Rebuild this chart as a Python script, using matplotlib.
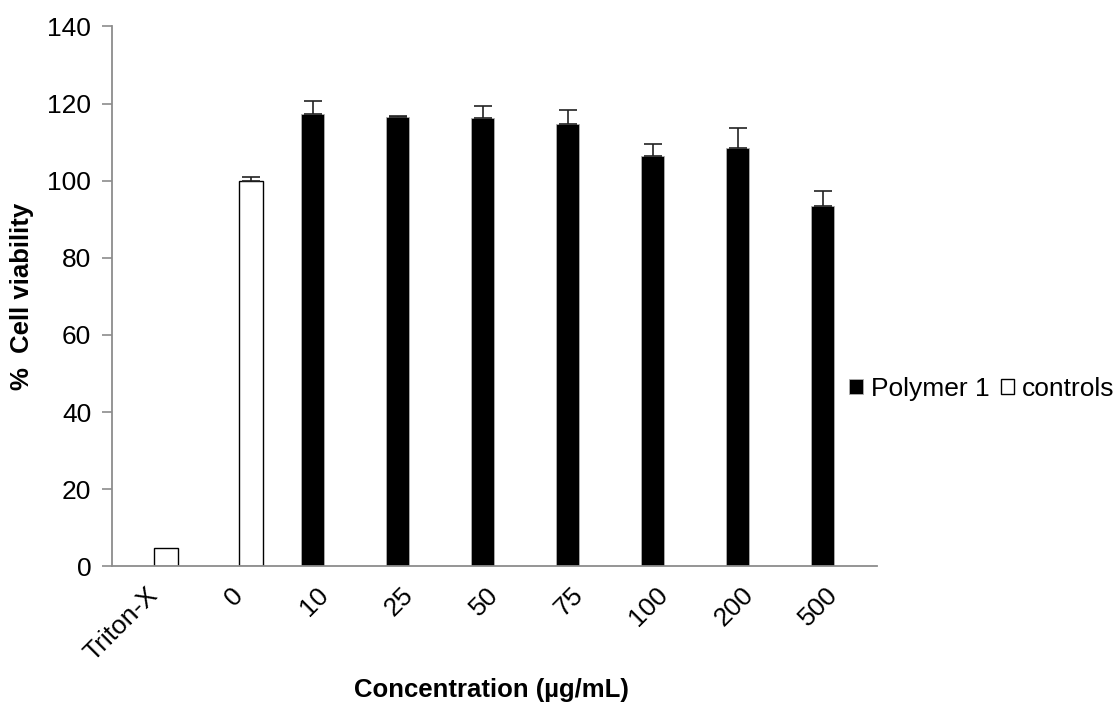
import matplotlib
matplotlib.use("Agg")
import matplotlib.pyplot as plt
import numpy as np

plt.rcParams['font.family'] = ['Liberation Sans', 'DejaVu Sans']

categories = ["Triton-X", "0", "10", "25", "50", "75", "100", "200", "500"]
polymer_vals = [np.nan, np.nan, 117.4, 116.4, 116.3, 114.8, 106.5, 108.4, 93.5]
polymer_err = [0, 0, 3.3, 0.3, 3.0, 3.5, 3.1, 5.3, 3.9]
control_vals = [4.7, 100.0, np.nan, np.nan, np.nan, np.nan, np.nan, np.nan, np.nan]
control_err = [0, 1.0, 0, 0, 0, 0, 0, 0, 0]
yticks = [0, 20, 40, 60, 80, 100, 120, 140]

W, H = 1120, 706
fig = plt.figure(figsize=(11.2, 7.06), dpi=100)
ax = fig.add_axes([0.1, 0.198, 0.683, 0.7645])

x = np.arange(len(categories))
w = 0.28
ax.bar(x - w/2, polymer_vals, w, color='black', edgecolor='#b0b0b0', linewidth=0.6,
       label='Polymer 1')
ax.bar(x + w/2, control_vals, w, color='white', edgecolor='black', linewidth=1.0,
       label='controls')
pm = ~np.isnan(np.array(polymer_vals, dtype=float))
ax.errorbar((x - w/2)[pm], np.array(polymer_vals)[pm],
            yerr=[np.zeros(pm.sum()), np.array(polymer_err)[pm]],
            fmt='none', ecolor='#222222', elinewidth=1.2, capsize=6.5, capthick=1.2)
cm = np.array(control_err) > 0
ax.errorbar((x + w/2)[cm], np.array(control_vals)[cm],
            yerr=[np.zeros(cm.sum()), np.array(control_err)[cm]],
            fmt='none', ecolor='#222222', elinewidth=1.2, capsize=6.5, capthick=1.2)

ax.set_xlim(-0.5, len(categories) - 0.5)
ax.set_ylim(0, 140)
ax.set_yticks(yticks)
# invisible ticks, nudged left so the rotated labels sit like the reference
ax.set_xticks(x - 0.1)
ax.set_xticklabels(categories, rotation=45, ha='right', rotation_mode='anchor', fontsize=19)
ax.tick_params(axis='x', length=0, pad=12)
ax.tick_params(axis='y', length=7, color='#8c8c8c', width=1.2, labelsize=19, pad=8)
for s in ['top', 'right']:
    ax.spines[s].set_visible(False)
for s in ['left', 'bottom']:
    ax.spines[s].set_color('#8c8c8c')
    ax.spines[s].set_linewidth(1.3)

fig.text(22 / W, 1 - 296 / H, '%  Cell viability', fontsize=18.5, fontweight='bold',
         rotation=90, ha='center', va='center')
fig.text(491 / W, 1 - 690 / H, 'Concentration (µg/mL)', fontsize=18.5, fontweight='bold',
         ha='center', va='center')

ax.legend(loc='center left', bbox_to_anchor=(0.964, 0.328), ncol=2, frameon=False,
          fontsize=19, handlelength=0.5, handleheight=0.5, handletextpad=0.3,
          columnspacing=0.45, borderpad=0, borderaxespad=0)

fig.savefig('out.png', dpi=100)
